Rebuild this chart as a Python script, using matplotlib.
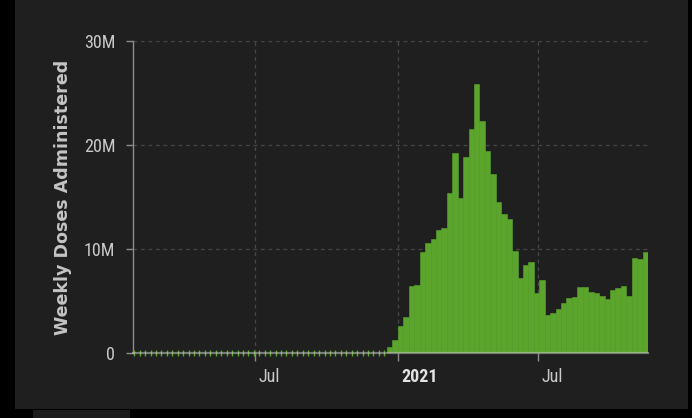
import pandas as pd
import matplotlib
matplotlib.use('Agg')
import matplotlib.pyplot as plt
import matplotlib.transforms as mtransforms
from matplotlib.patches import Rectangle

# weekly doses (millions), first week with doses = week of Dec 20 2020
first_week = '2020-01-28'
zero_weeks = 47
doses_m = [0.6, 1.3, 2.6, 3.45, 6.5, 6.55, 9.75, 10.6, 11.0, 11.8,
           12.0, 15.4, 19.2, 14.9, 18.9, 21.5, 25.9, 22.3, 19.4, 17.2,
           14.5, 13.4, 12.9, 9.8, 7.2, 8.5, 8.75, 5.75, 7.0, 3.7,
           3.85, 4.3, 4.8, 5.3, 5.45, 6.35, 6.35, 5.9, 5.75, 5.5,
           5.2, 6.1, 6.25, 6.5, 5.5, 9.2, 9.05, 9.75]

y_ticks = [0, 10e6, 20e6, 30e6]
y_labels = ['0', '10M', '20M', '30M']
x_ticks = ['2020-07-01', '2021-01-01', '2021-07-01']
x_labels = ['Jul', '2021', 'Jul']

values = [0.0] * zero_weeks + [v * 1e6 for v in doses_m]
weeks = pd.date_range(first_week, periods=len(values), freq='7D')
df = pd.DataFrame({'week': weeks, 'doses': values})

narrow = ['Liberation Sans Narrow', 'Roboto Condensed', 'Liberation Sans', 'DejaVu Sans']
plt.rcParams['font.family'] = narrow

BG = '#1f1f1f'
GREEN = '#5ba52d'
TXT = '#c9c9c9'
GRID = '#474747'

fig = plt.figure(figsize=(6.92, 4.18), dpi=100, facecolor='black')
# panel (screenshot background)
fig.patches.append(Rectangle((15 / 692, 9 / 418), 673 / 692, 409 / 418,
                             transform=fig.transFigure, facecolor=BG,
                             edgecolor='none', zorder=-5))
fig.patches.append(Rectangle((33 / 692, 0), 97 / 692, 8 / 418,
                             transform=fig.transFigure, facecolor='#1c1c1c',
                             edgecolor='none', zorder=-5))

ax = fig.add_axes([132.7 / 692, 64.7 / 418, 515.3 / 692, 312.3 / 418])
ax.set_facecolor(BG)

nz = df[df['doses'] > 0]
z = df[df['doses'] == 0]
ax.bar(nz['week'], nz['doses'], width=7, color=GREEN, edgecolor=GREEN,
       linewidth=0.4, align='center', zorder=2)
ax.scatter(z['week'], z['doses'], marker='|', s=20, color=GREEN,
           linewidths=1.0, zorder=3, clip_on=False)

ax.set_xlim(pd.Timestamp('2020-01-26'), weeks[-1] + pd.Timedelta(days=3.5))
ax.set_ylim(0, 30e6)

ax.set_yticks(y_ticks)
ax.set_yticklabels(y_labels)
ax.set_xticks(pd.to_datetime(x_ticks))
ax.set_xticklabels(x_labels)

ax.grid(True, color=GRID, linestyle=(0, (3, 3)), linewidth=0.9, zorder=0)
ax.set_axisbelow(True)

for s in ['top', 'right']:
    ax.spines[s].set_visible(False)
ax.spines['left'].set_color('#8c8c8c')
ax.spines['left'].set_linewidth(1)
ax.spines['bottom'].set_color('#d0d0d0')
ax.spines['bottom'].set_alpha(0.5)
ax.spines['bottom'].set_linewidth(1.6)
ax.spines['bottom'].set_zorder(4)

ax.tick_params(axis='y', length=5, width=1, color='#8c8c8c', pad=7.5,
               labelsize=13, labelcolor=TXT)
ax.tick_params(axis='x', length=5.8, width=1, color='#8c8c8c', pad=5,
               labelsize=13, labelcolor=TXT)

offset = mtransforms.ScaledTranslation(3.5 / 100, 0, fig.dpi_scale_trans)
for lab in ax.get_xticklabels():
    lab.set_horizontalalignment('left')
    lab.set_transform(lab.get_transform() + offset)
    if lab.get_text() == '2021':
        lab.set_fontweight('bold')
        lab.set_color('#e2e2e2')

ax.set_ylabel('Weekly Doses Administered', fontsize=12.6, fontweight='bold',
              color='#c4c4c4', family=['DejaVu Sans'])
ax.yaxis.set_label_coords(-0.135, 0.5)
ax.yaxis.label.set_va('center')

plt.savefig('out.png', dpi=100, facecolor='black')
